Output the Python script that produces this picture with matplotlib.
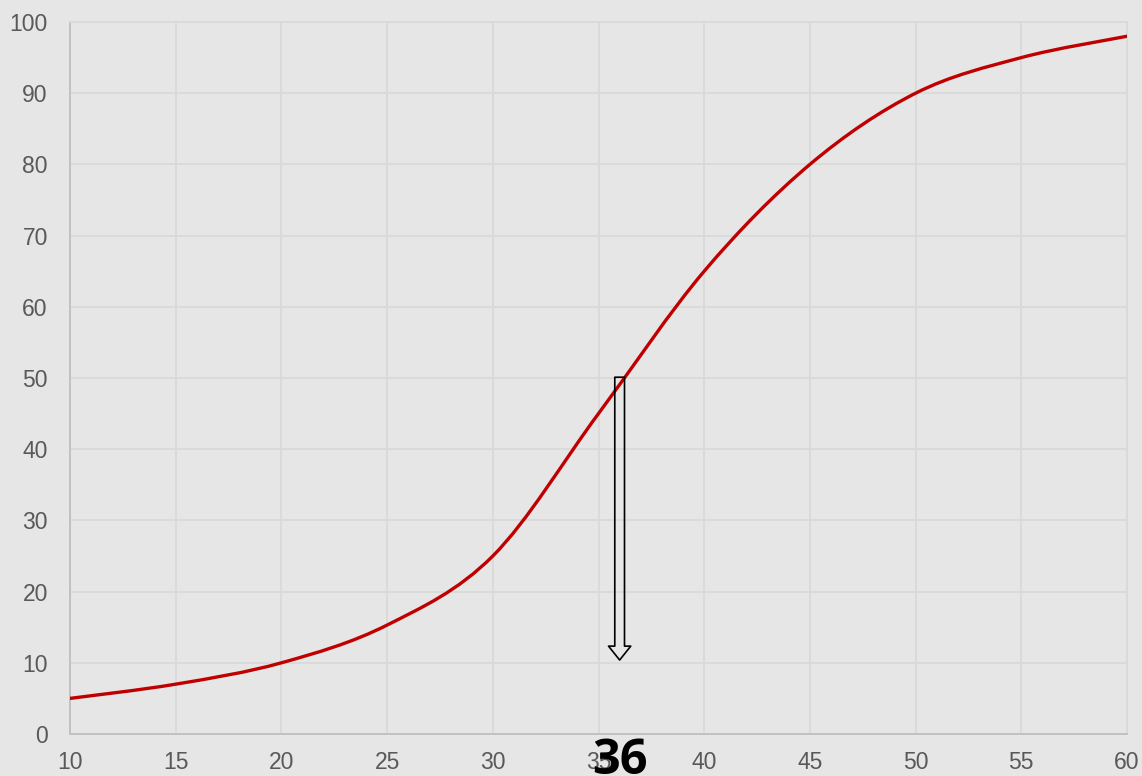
import numpy as np
import matplotlib
matplotlib.use("Agg")
import matplotlib.pyplot as plt
from matplotlib.path import Path
from matplotlib.patches import PathPatch

# cumulative curve
ages = [10, 15, 20, 25, 30, 35, 40, 45, 50, 55, 60]
cum_pct = [5, 7, 10, 15.3, 25, 45, 65, 80, 90, 95, 98]
median_x = 36
arrow_top, arrow_bottom = 50.5, 10
xticks = [10, 15, 20, 25, 30, 35, 40, 45, 50, 55, 60]
yticks = [0, 10, 20, 30, 40, 50, 60, 70, 80, 90, 100]

bg = "#e6e6e6"
plt.rcParams["font.family"] = ["Liberation Sans", "DejaVu Sans"]

fig = plt.figure(figsize=(11.42, 7.76), dpi=100, facecolor=bg)
ax = fig.add_axes([70 / 1142, 42 / 776, 1057 / 1142, 712 / 776])
ax.set_facecolor(bg)

# smooth line like Excel's (Catmull-Rom as cubic Bezier)
P = np.column_stack([ages, cum_pct]).astype(float)
verts = [P[0]]
codes = [Path.MOVETO]
n = len(P)
for i in range(n - 1):
    p0 = P[i - 1] if i > 0 else P[i]
    p1, p2 = P[i], P[i + 1]
    p3 = P[i + 2] if i + 2 < n else P[i + 1]
    c1 = p1 + (p2 - p0) / 6
    c2 = p2 - (p3 - p1) / 6
    verts += [c1, c2, p2]
    codes += [Path.CURVE4] * 3
ax.add_patch(PathPatch(Path(verts, codes), fc="none", ec="#c00000", lw=2.4,
                       zorder=3, capstyle="round"))

# hollow arrow at the median
ax.annotate("", xy=(median_x, arrow_bottom), xytext=(median_x, arrow_top),
            arrowprops=dict(arrowstyle="simple,head_width=0.8,head_length=0.5,tail_width=0.35",
                            fc="none", ec="black", lw=1.2, mutation_scale=20),
            zorder=4)

ax.text(median_x, -0.4, str(median_x), ha="center", va="top", fontsize=35,
        fontweight="bold", family="Open Sans", color="black", clip_on=False,
        zorder=5)

ax.set_xlim(10, 60)
ax.set_ylim(0, 100)
ax.set_xticks(xticks)
ax.set_yticks(yticks)
ax.tick_params(length=0, labelsize=16.5, labelcolor="#595959")
ax.tick_params(axis="y", pad=16)
ax.tick_params(axis="x", pad=12)
ax.grid(True, color="#d9d9d9", lw=1.3)
for s in ["top", "right"]:
    ax.spines[s].set_color("#d9d9d9")
    ax.spines[s].set_linewidth(1.3)
for s in ["left", "bottom"]:
    ax.spines[s].set_color("#bfbfbf")
    ax.spines[s].set_linewidth(1.3)

fig.savefig("out.png", dpi=100, facecolor=bg)
